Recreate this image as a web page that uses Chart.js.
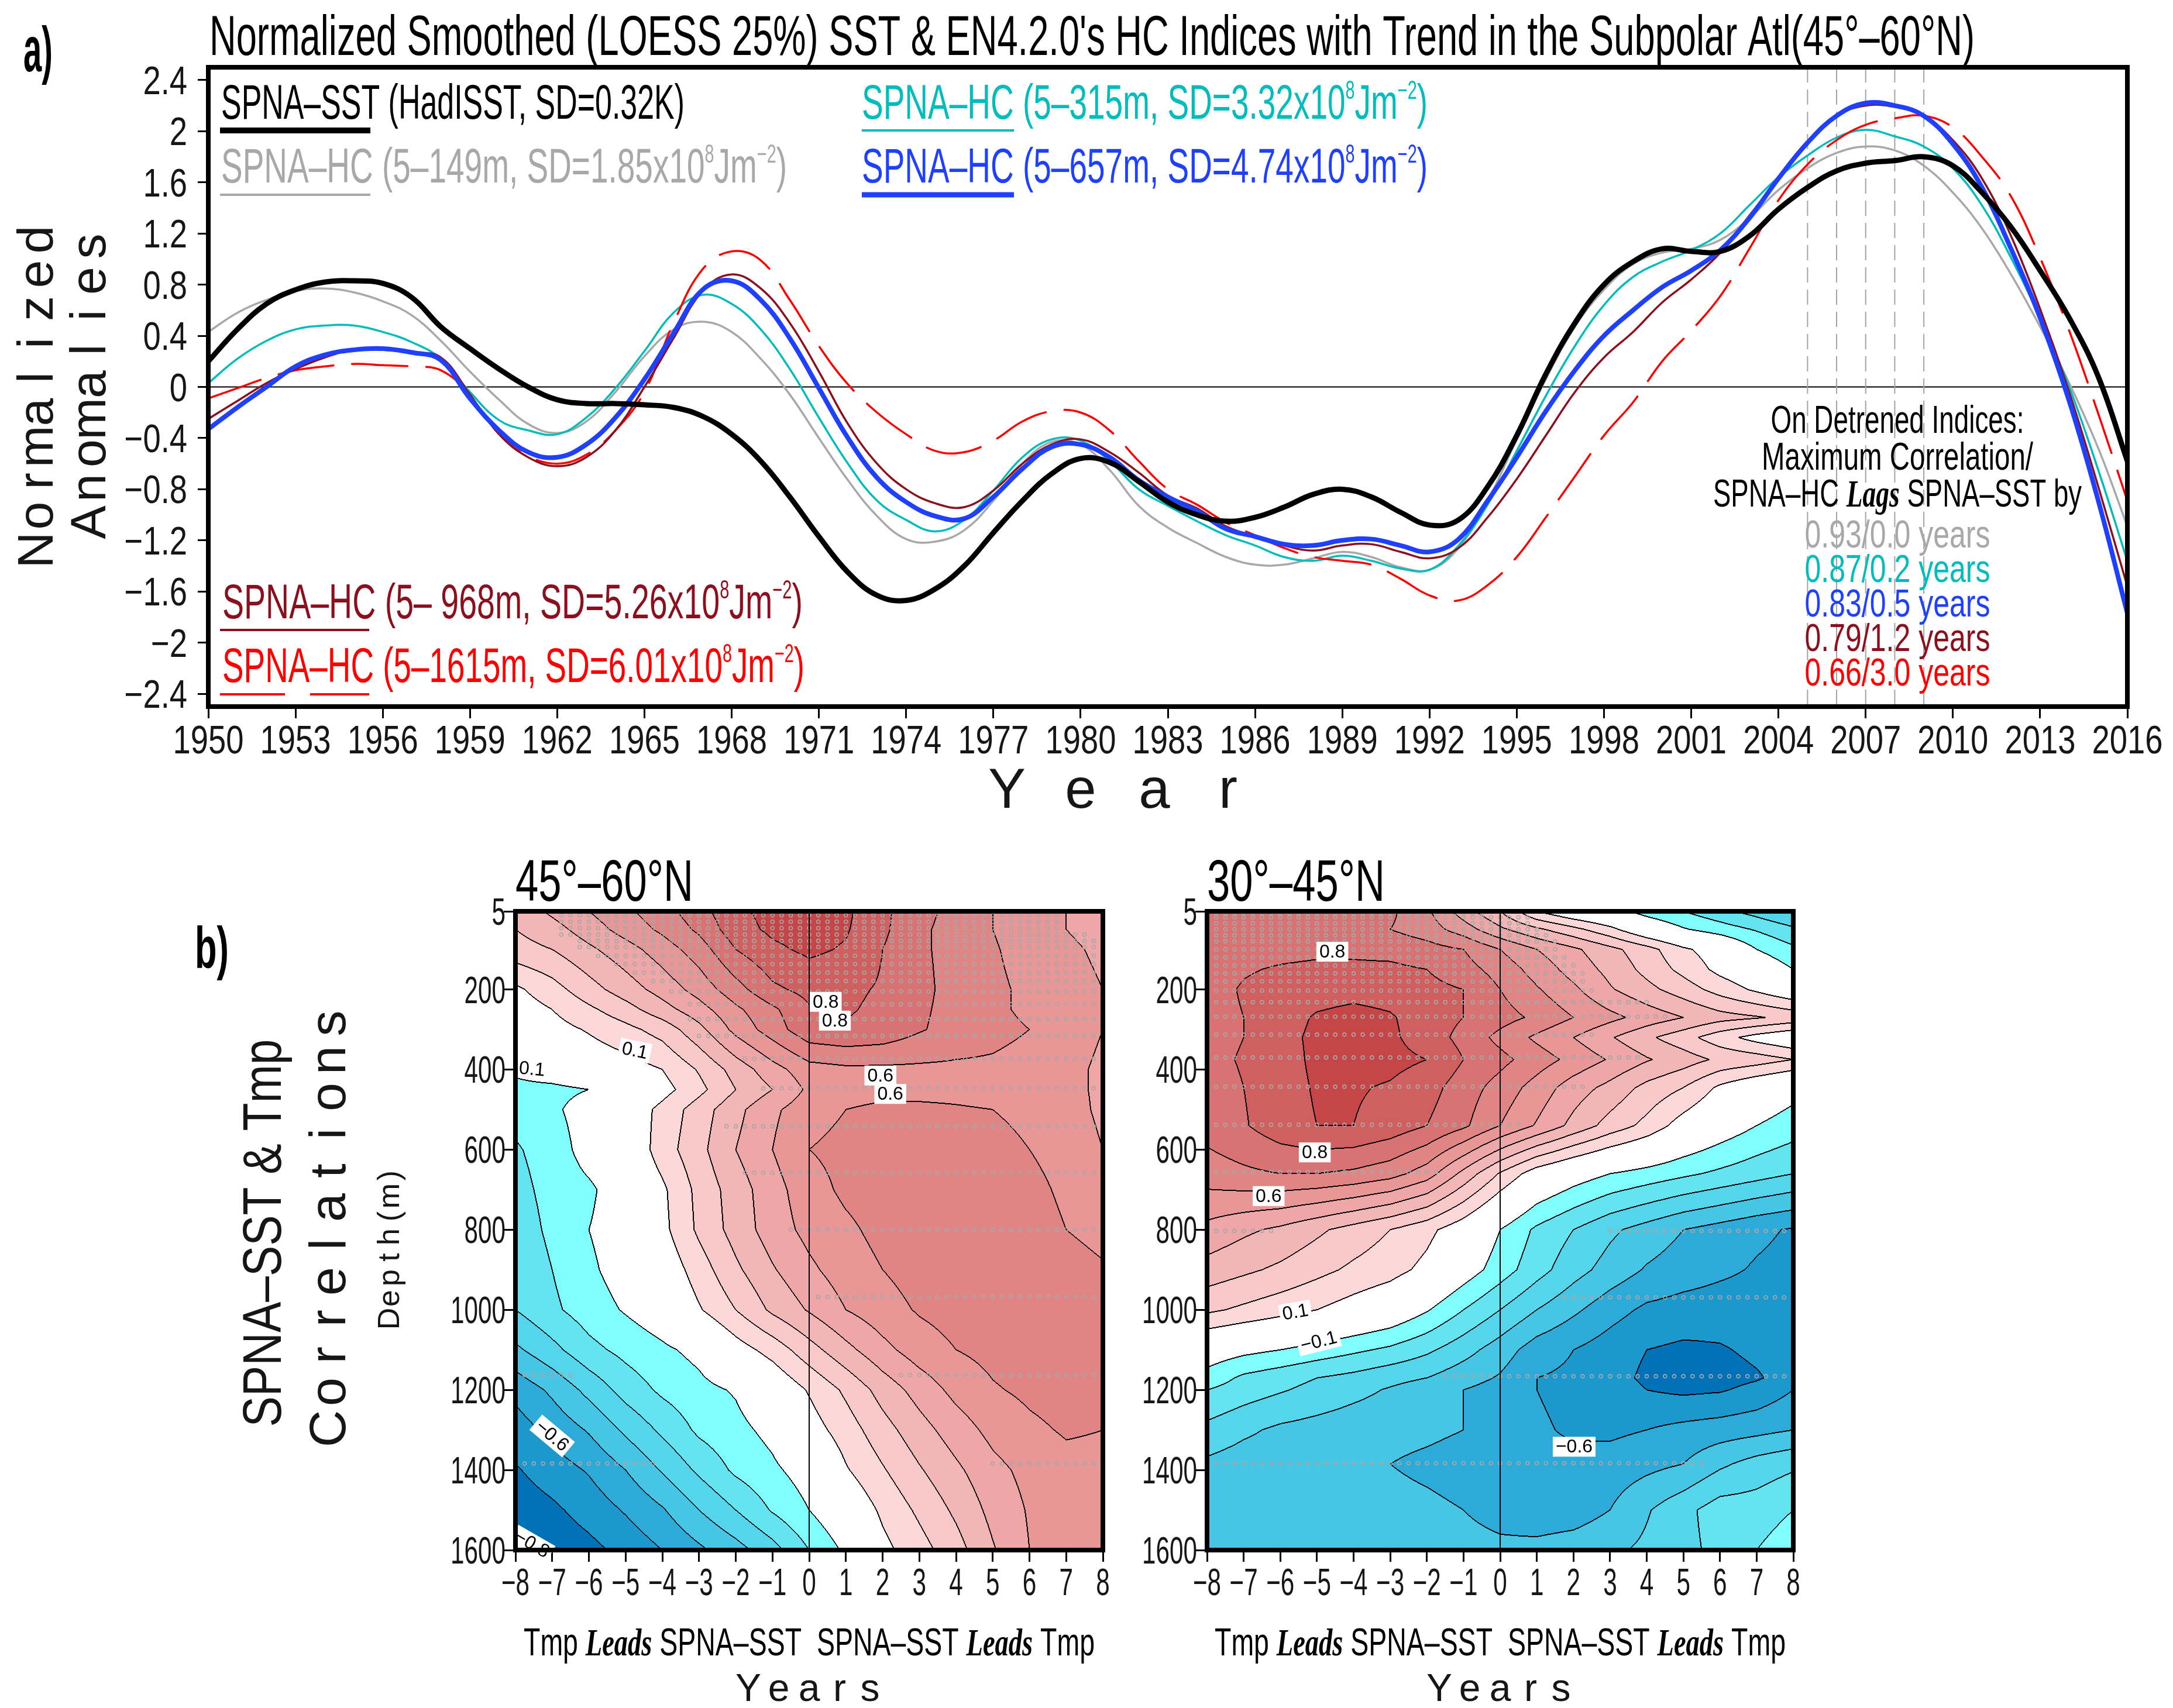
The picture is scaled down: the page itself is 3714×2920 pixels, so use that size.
<!DOCTYPE html>
<html>
<head>
<meta charset="utf-8">
<title>SPNA SST and HC indices</title>
<script src="https://cdn.jsdelivr.net/npm/chart.js@4.4.1/dist/chart.umd.min.js"></script>
<style>
  html, body { margin: 0; padding: 0; background: #fff; }
  #page { position: relative; width: 3714px; height: 2920px; overflow: hidden; background: #fff; }
  #page canvas { position: absolute; left: 0; top: 0; }
</style>
</head>
<body>
<div id="page">
  <canvas id="chartTop" width="3714" height="2920"></canvas>
  <canvas id="chartLeft" width="3714" height="2920"></canvas>
  <canvas id="chartRight" width="3714" height="2920"></canvas>
</div>
<script>
// ---------- panel a) data ----------
const years = [];
for (let y = 1950; y <= 2016; y++) years.push(y);

const sst = [
  0.20, 0.45, 0.65, 0.76, 0.82, 0.83, 0.81, 0.70, 0.47, 0.30,
  0.14, 0.00, -0.10, -0.13, -0.13, -0.14, -0.16, -0.23, -0.37, -0.58,
  -0.86, -1.17, -1.45, -1.63, -1.67, -1.58, -1.40, -1.14, -0.89, -0.68,
  -0.56, -0.59, -0.74, -0.90, -1.00, -1.05, -1.02, -0.94, -0.84, -0.80,
  -0.86, -0.98, -1.08, -1.04, -0.78, -0.38, 0.10, 0.50, 0.80, 0.98,
  1.08, 1.06, 1.06, 1.18, 1.39, 1.56, 1.69, 1.75, 1.77, 1.80,
  1.73, 1.52, 1.25, 0.91, 0.54, 0.08, -0.58
];
const hc149 = [
  0.43, 0.58, 0.68, 0.75, 0.77, 0.74, 0.67, 0.56, 0.36, 0.12,
  -0.10, -0.29, -0.36, -0.27, -0.04, 0.24, 0.45, 0.51, 0.43, 0.22,
  -0.06, -0.40, -0.73, -1.01, -1.19, -1.21, -1.12, -0.89, -0.60, -0.43,
  -0.45, -0.65, -0.93, -1.10, -1.22, -1.33, -1.39, -1.39, -1.34, -1.29,
  -1.33, -1.41, -1.43, -1.26, -0.89, -0.41, 0.06, 0.47, 0.76, 0.96,
  1.05, 1.08, 1.15, 1.32, 1.54, 1.71, 1.83, 1.88, 1.85, 1.73,
  1.52, 1.24, 0.88, 0.47, 0.03, -0.48, -1.09
];
const hc315 = [
  0.03, 0.22, 0.36, 0.45, 0.48, 0.48, 0.43, 0.35, 0.22, -0.04,
  -0.26, -0.34, -0.37, -0.24, -0.01, 0.28, 0.58, 0.72, 0.65, 0.45,
  0.14, -0.24, -0.60, -0.89, -1.04, -1.13, -1.04, -0.81, -0.55, -0.41,
  -0.42, -0.58, -0.80, -0.93, -1.05, -1.16, -1.24, -1.33, -1.36, -1.32,
  -1.36, -1.42, -1.43, -1.24, -0.92, -0.50, -0.07, 0.32, 0.64, 0.86,
  0.98, 1.07, 1.20, 1.42, 1.64, 1.81, 1.95, 2.01, 1.96, 1.88,
  1.71, 1.42, 1.01, 0.54, 0.00, -0.65, -1.36
];
const hc657 = [
  -0.33, -0.16, 0.00, 0.16, 0.25, 0.29, 0.30, 0.27, 0.21, -0.09,
  -0.34, -0.51, -0.55, -0.45, -0.24, 0.06, 0.42, 0.76, 0.83, 0.68,
  0.38, -0.01, -0.40, -0.71, -0.90, -1.01, -1.03, -0.86, -0.64, -0.47,
  -0.45, -0.55, -0.73, -0.86, -0.97, -1.11, -1.17, -1.23, -1.24, -1.20,
  -1.19, -1.24, -1.29, -1.19, -0.89, -0.55, -0.19, 0.13, 0.40, 0.60,
  0.78, 0.91, 1.07, 1.32, 1.63, 1.91, 2.12, 2.22, 2.20, 2.12,
  1.90, 1.56, 1.08, 0.54, -0.11, -0.89, -1.77
];
const hc968 = [
  -0.25, -0.11, 0.03, 0.14, 0.23, 0.29, 0.29, 0.27, 0.23, -0.06,
  -0.37, -0.55, -0.62, -0.55, -0.34, 0.00, 0.38, 0.75, 0.88, 0.77,
  0.50, 0.12, -0.29, -0.60, -0.80, -0.91, -0.94, -0.81, -0.60, -0.45,
  -0.41, -0.51, -0.67, -0.85, -0.95, -1.09, -1.17, -1.24, -1.28, -1.24,
  -1.23, -1.29, -1.34, -1.26, -1.02, -0.72, -0.38, -0.04, 0.23, 0.43,
  0.66, 0.84, 1.05, 1.34, 1.63, 1.91, 2.12, 2.20, 2.19, 2.12,
  1.93, 1.63, 1.18, 0.61, -0.04, -0.78, -1.56
];
const hc1615 = [
  -0.09, -0.01, 0.07, 0.13, 0.16, 0.18, 0.17, 0.16, 0.13, -0.06,
  -0.37, -0.54, -0.60, -0.53, -0.34, -0.04, 0.50, 0.92, 1.06, 0.99,
  0.68, 0.32, 0.02, -0.20, -0.37, -0.50, -0.51, -0.42, -0.27, -0.19,
  -0.20, -0.34, -0.58, -0.80, -0.92, -1.06, -1.16, -1.26, -1.33, -1.36,
  -1.39, -1.50, -1.63, -1.67, -1.55, -1.33, -1.02, -0.70, -0.38, -0.12,
  0.20, 0.44, 0.71, 1.08, 1.46, 1.74, 1.93, 2.05, 2.10, 2.12,
  2.03, 1.80, 1.49, 1.01, 0.44, -0.21, -0.89
];
const yearTicks = [1950,1953,1956,1959,1962,1965,1968,1971,1974,1977,1980,1983,1986,1989,1992,1995,1998,2001,2004,2007,2010,2013,2016];
const yearTickLabels = yearTicks.map(String);
const anomTicks = [2.4,2,1.6,1.2,0.8,0.4,0,-0.4,-0.8,-1.2,-1.6,-2,-2.4];
const anomTickLabels = ['2.4','2','1.6','1.2','0.8','0.4','0','−0.4','−0.8','−1.2','−1.6','−2','−2.4'];
const markedYears = [2005, 2006, 2007, 2008, 2009];
const lagNotes = ['0.93/0.0 years','0.87/0.2 years','0.83/0.5 years','0.79/1.2 years','0.66/3.0 years'];

// ---------- panel b) data ----------
const lags = [-8,-7,-6,-5,-4,-3,-2,-1,0,1,2,3,4,5,6,7,8];
const lagTickLabels = ['−8','−7','−6','−5','−4','−3','−2','−1','0','1','2','3','4','5','6','7','8'];
const depthTicks = [5,200,400,600,800,1000,1200,1400,1600];
const depthTickLabels = ['5','200','400','600','800','1000','1200','1400','1600'];

// 45-60N correlations, rows = depthsA, columns = lags
const depthsA = [5,50,100,200,250,300,400,450,500,600,700,800,900,1000,1100,1200,1300,1400,1500,1600];
const corrA = [
  [0.33,0.42,0.50,0.58,0.66,0.76,0.88,0.93,0.95,0.92,0.82,0.74,0.66,0.60,0.55,0.50,0.45],
  [0.30,0.36,0.45,0.54,0.62,0.72,0.86,0.92,0.94,0.91,0.82,0.72,0.66,0.60,0.55,0.50,0.46],
  [0.26,0.30,0.38,0.46,0.55,0.65,0.80,0.88,0.92,0.89,0.80,0.72,0.66,0.61,0.56,0.52,0.48],
  [0.08,0.16,0.26,0.35,0.44,0.54,0.66,0.78,0.83,0.82,0.79,0.73,0.66,0.62,0.58,0.54,0.50],
  [0.04,0.10,0.18,0.26,0.36,0.46,0.58,0.68,0.79,0.81,0.78,0.72,0.66,0.62,0.58,0.55,0.50],
  [0.02,0.06,0.11,0.17,0.24,0.37,0.53,0.65,0.77,0.79,0.77,0.71,0.66,0.63,0.60,0.55,0.50],
  [-0.08,-0.03,0.02,0.05,0.10,0.21,0.34,0.46,0.56,0.58,0.58,0.58,0.58,0.58,0.56,0.53,0.48],
  [-0.13,-0.13,-0.10,-0.02,0.06,0.17,0.30,0.40,0.52,0.56,0.57,0.57,0.57,0.56,0.55,0.53,0.48],
  [-0.17,-0.12,-0.05,0.02,0.13,0.25,0.37,0.48,0.56,0.60,0.62,0.62,0.61,0.60,0.57,0.54,0.48],
  [-0.21,-0.16,-0.05,0.00,0.15,0.27,0.40,0.50,0.60,0.63,0.65,0.65,0.65,0.64,0.60,0.56,0.50],
  [-0.23,-0.17,-0.12,-0.03,0.08,0.23,0.35,0.46,0.56,0.62,0.65,0.66,0.66,0.66,0.63,0.58,0.54],
  [-0.25,-0.18,-0.10,-0.04,0.07,0.22,0.34,0.45,0.53,0.58,0.63,0.66,0.67,0.67,0.65,0.60,0.57],
  [-0.27,-0.20,-0.12,-0.05,0.02,0.15,0.28,0.39,0.48,0.55,0.60,0.64,0.66,0.67,0.67,0.64,0.61],
  [-0.30,-0.22,-0.15,-0.09,-0.03,0.09,0.20,0.32,0.41,0.50,0.56,0.61,0.64,0.66,0.67,0.66,0.64],
  [-0.42,-0.33,-0.23,-0.17,-0.12,-0.07,0.05,0.14,0.26,0.37,0.47,0.55,0.60,0.63,0.66,0.67,0.65],
  [-0.57,-0.48,-0.37,-0.26,-0.18,-0.13,-0.09,0.00,0.11,0.22,0.34,0.44,0.53,0.59,0.62,0.64,0.63],
  [-0.65,-0.57,-0.49,-0.38,-0.28,-0.18,-0.13,-0.07,0.05,0.15,0.26,0.36,0.45,0.53,0.58,0.61,0.60],
  [-0.71,-0.65,-0.59,-0.50,-0.39,-0.28,-0.18,-0.12,-0.05,0.09,0.19,0.29,0.38,0.47,0.53,0.57,0.57],
  [-0.76,-0.72,-0.66,-0.59,-0.51,-0.40,-0.30,-0.19,-0.10,0.00,0.12,0.22,0.32,0.43,0.51,0.56,0.57],
  [-0.83,-0.77,-0.73,-0.67,-0.60,-0.52,-0.44,-0.34,-0.20,-0.08,0.07,0.16,0.26,0.39,0.50,0.56,0.58]
];
// 30-45N correlations
const depthsB = [5,50,100,150,200,270,320,375,445,540,660,800,900,1000,1100,1170,1200,1300,1385,1500,1600];
const corrB = [
  [0.70,0.71,0.72,0.73,0.74,0.72,0.62,0.45,0.30,0.10,0.00,-0.06,-0.14,-0.20,-0.27,-0.34,-0.42],
  [0.72,0.73,0.73,0.73,0.72,0.70,0.65,0.55,0.42,0.32,0.23,0.13,0.00,-0.09,-0.15,-0.21,-0.28],
  [0.74,0.76,0.77,0.78,0.78,0.77,0.74,0.70,0.60,0.50,0.42,0.33,0.24,0.12,0.04,-0.10,-0.18],
  [0.75,0.79,0.81,0.82,0.82,0.82,0.80,0.74,0.66,0.56,0.46,0.37,0.27,0.17,0.07,0.00,-0.10],
  [0.76,0.81,0.84,0.86,0.87,0.86,0.83,0.80,0.70,0.61,0.52,0.41,0.33,0.25,0.16,0.08,0.00],
  [0.76,0.80,0.86,0.91,0.93,0.91,0.85,0.80,0.74,0.68,0.60,0.53,0.46,0.40,0.34,0.31,0.27],
  [0.76,0.80,0.87,0.92,0.93,0.92,0.85,0.77,0.67,0.58,0.50,0.41,0.32,0.24,0.14,0.06,0.00],
  [0.77,0.81,0.86,0.92,0.94,0.93,0.90,0.80,0.73,0.65,0.57,0.49,0.41,0.35,0.28,0.25,0.20],
  [0.75,0.80,0.86,0.91,0.91,0.89,0.84,0.75,0.66,0.56,0.45,0.37,0.27,0.20,0.08,0.00,-0.06],
  [0.74,0.79,0.86,0.90,0.90,0.86,0.80,0.72,0.60,0.49,0.37,0.26,0.17,0.05,-0.03,-0.10,-0.15],
  [0.65,0.68,0.70,0.70,0.68,0.64,0.55,0.37,0.19,0.04,-0.04,-0.10,-0.14,-0.18,-0.22,-0.26,-0.30],
  [0.47,0.42,0.38,0.32,0.26,0.20,0.13,0.03,-0.10,-0.22,-0.30,-0.38,-0.44,-0.50,-0.54,-0.58,-0.61],
  [0.36,0.32,0.28,0.23,0.18,0.14,0.07,-0.04,-0.15,-0.26,-0.36,-0.44,-0.51,-0.55,-0.58,-0.61,-0.63],
  [0.22,0.18,0.14,0.10,0.05,0.00,-0.09,-0.20,-0.30,-0.40,-0.48,-0.56,-0.62,-0.64,-0.65,-0.65,-0.64],
  [-0.03,-0.07,-0.10,-0.14,-0.18,-0.22,-0.28,-0.36,-0.45,-0.55,-0.60,-0.65,-0.70,-0.72,-0.71,-0.68,-0.66],
  [-0.14,-0.22,-0.26,-0.30,-0.33,-0.37,-0.40,-0.46,-0.51,-0.60,-0.62,-0.66,-0.72,-0.76,-0.74,-0.71,-0.66],
  [-0.20,-0.25,-0.29,-0.33,-0.37,-0.41,-0.45,-0.50,-0.54,-0.60,-0.62,-0.65,-0.70,-0.72,-0.71,-0.67,-0.60],
  [-0.33,-0.38,-0.42,-0.44,-0.46,-0.47,-0.48,-0.50,-0.54,-0.59,-0.61,-0.62,-0.60,-0.57,-0.55,-0.53,-0.50],
  [-0.42,-0.45,-0.46,-0.47,-0.48,-0.50,-0.52,-0.54,-0.57,-0.58,-0.58,-0.56,-0.53,-0.50,-0.42,-0.36,-0.32],
  [-0.46,-0.46,-0.46,-0.47,-0.47,-0.47,-0.48,-0.50,-0.53,-0.56,-0.55,-0.50,-0.41,-0.33,-0.25,-0.25,-0.20],
  [-0.47,-0.46,-0.46,-0.46,-0.46,-0.46,-0.47,-0.47,-0.48,-0.47,-0.45,-0.42,-0.38,-0.33,-0.27,-0.20,-0.14]
];
// significance rows: [depth, first lag, last lag]
const sigRowsA = [
  [15,-6.75,6.75],[31,-6.75,6.75],[47,-6.75,6.75],[63,-6.75,7.5],[79,-6.25,7.75],[94,-6.25,7.75],
  [116,-5.75,7.75],[137,-5.25,7.75],[158,-4.75,7.75],[179,-4.25,7.75],[205,-3.75,7.75],[237,-3.25,7.75],
  [274,-3.25,7.75],[316,-3,7.75],[373,-1.75,7.75],[447,-1.25,7.75],[542,-2.25,7.75],[658,-1.75,7.75],
  [800,-0.5,7.75],[968,0.25,7.75],[1163,-7.75,-6.5],[1163,2.5,7.75],[1384,-7.75,-4.25],[1384,5,7.75]
];
const sigRowsB = [
  [10,-7.75,-0.5],[20,-7.75,0.75],[35,-7.75,0.75],[50,-7.75,1],[65,-7.75,1.25],[80,-7.75,1.5],
  [100,-7.75,1.5],[120,-7.75,1.75],[140,-7.75,2],[160,-7.75,2.25],[180,-7.75,2.25],[203,-7.75,2.5],
  [232,-7.75,4],[268,-7.75,4.5],[313,-7.75,2.5],[370,-7.75,3.75],[443,-7.75,2.25],[538,-7.75,0.5],
  [656,-7.75,-1.75],[803,-7.75,-6.25],[803,3,7.75],[969,1.75,7.75],[1166,-1.5,7.75],[1383,-7.75,5.5]
];
// contour labels: [lag, depth, text, rotation in degrees]
const contourLabelsA = [
  [0.45,231,'0.8',0],[0.7,278,'0.8',0],[1.94,415,'0.6',0],[2.21,461,'0.6',0],
  [-4.75,353,'0.1',12],[-7.55,399,'0.1',5],[-7.0,1315,'−0.6',40],[-7.55,1585,'−0.8',30]
];
const contourLabelsB = [
  [-4.58,106,'0.8',0],[-5.06,607,'0.8',0],[-6.32,716,'0.6',0],
  [-5.59,1006,'0.1',-10],[-4.95,1079,'−0.1',-14],[2.02,1342,'−0.6',0]
];

// ---------- styling helpers ----------
const FAM = '"Liberation Sans", Arial, sans-serif';
const F = (size, pre) => (pre ? pre + ' ' : '') + size + 'px ' + FAM;
const SBI = size => 'italic bold ' + size + 'px "Liberation Serif", "DejaVu Serif", serif';
const C_SST = '#000000', C149 = '#a8a8a8', C315 = '#00bcbc', C657 = '#2040ff', C968 = '#8c0f1e', C1615 = '#ff0000';
const INK = '#161616';

function drawSegs(ctx, segs, x, y, width, align, color) {
  ctx.save();
  ctx.textBaseline = 'alphabetic';
  ctx.textAlign = 'left';
  let total = 0;
  const ws = segs.map(s => { ctx.font = s.font; const w = ctx.measureText(s.t).width; total += w; return w; });
  const sx = width ? width / total : 1;
  const w = total * sx;
  const start = align === 'center' ? x - w / 2 : align === 'right' ? x - w : x;
  ctx.translate(start, y);
  ctx.scale(sx, 1);
  let cx = 0;
  segs.forEach((s, i) => {
    ctx.font = s.font;
    ctx.fillStyle = s.color || color;
    ctx.fillText(s.t, cx, s.dy || 0);
    cx += ws[i];
  });
  ctx.restore();
}
function text(ctx, t, x, y, font, width, align, color) {
  drawSegs(ctx, [{ t, font }], x, y, width, align, color);
}
function condText(ctx, t, x, y, size, sx, align, color) {
  ctx.save();
  ctx.font = F(size);
  ctx.fillStyle = color || INK;
  ctx.textAlign = align;
  ctx.textBaseline = 'alphabetic';
  ctx.translate(x, y);
  ctx.scale(sx, 1);
  ctx.fillText(t, 0, 0);
  ctx.restore();
}
function spaced(ctx, t, cx, y, pitch, font, color) {
  ctx.save();
  ctx.font = font;
  ctx.fillStyle = color || INK;
  ctx.textAlign = 'center';
  ctx.textBaseline = 'alphabetic';
  const n = t.length;
  for (let i = 0; i < n; i++) ctx.fillText(t[i], cx + (i - (n - 1) / 2) * pitch, y);
  ctx.restore();
}
function upright(ctx, bx, cy, fn) {
  ctx.save();
  ctx.translate(bx, cy);
  ctx.rotate(-Math.PI / 2);
  fn();
  ctx.restore();
}
function hcLegend(range, sd, color) {
  return [
    { t: 'SPNA–HC (' + range + ', SD=' + sd + 'x10', font: F(84), color },
    { t: '8', font: F(44), dy: -34, color },
    { t: 'Jm', font: F(84), color },
    { t: '−2', font: F(44), dy: -34, color },
    { t: ')', font: F(84), color }
  ];
}
function sample(ctx, x1, x2, y, color, width, dash) {
  ctx.save();
  ctx.strokeStyle = color;
  ctx.lineWidth = width;
  ctx.setLineDash(dash || []);
  ctx.beginPath(); ctx.moveTo(x1, y); ctx.lineTo(x2, y); ctx.stroke();
  ctx.restore();
}
function frame(ctx, a, w) {
  ctx.save();
  ctx.strokeStyle = '#000';
  ctx.lineWidth = w;
  ctx.strokeRect(a.left, a.top, a.right - a.left, a.bottom - a.top);
  ctx.restore();
}

// ---------- panel a) chart ----------
const topDeco = {
  id: 'topDeco',
  beforeDatasetsDraw(chart) {
    const { ctx, chartArea: a, scales: { x, y } } = chart;
    ctx.save();
    const y0 = y.getPixelForValue(0);
    ctx.strokeStyle = '#000'; ctx.lineWidth = 2;
    ctx.beginPath(); ctx.moveTo(a.left, y0); ctx.lineTo(a.right, y0); ctx.stroke();
    ctx.strokeStyle = '#a4a4a4'; ctx.lineWidth = 2; ctx.setLineDash([26, 12]);
    markedYears.forEach(yr => {
      const px = x.getPixelForValue(yr);
      ctx.beginPath(); ctx.moveTo(px, a.top); ctx.lineTo(px, a.bottom); ctx.stroke();
    });
    ctx.restore();
  },
  afterDraw(chart) {
    const { ctx, chartArea: a, scales: { x, y } } = chart;
    frame(ctx, a, 8);
    // tick labels
    x.ticks.forEach((t, i) => condText(ctx, yearTickLabels[i], x.getPixelForValue(t.value), 1288, 68, 0.8, 'center'));
    y.ticks.forEach((t, i) => condText(ctx, anomTickLabels[i], 320, y.getPixelForValue(t.value) + 24, 68, 0.8, 'right'));
    // title
    text(ctx, 'Normalized Smoothed (LOESS 25%) SST & EN4.2.0\'s HC Indices with Trend in the Subpolar Atl(45°–60°N)',
      358, 94, F(96), 3017, 'left', '#000');
    text(ctx, 'a)', 40, 122, F(110, 'bold'), 50, 'left', '#000');
    // axis titles
    upright(ctx, 90, 675, () => spaced(ctx, 'Normalized', 0, 0, 59, F(86)));
    upright(ctx, 180, 657, () => spaced(ctx, 'Anomalies', 0, 0, 59, F(86)));
    spaced(ctx, 'Year', 1910, 1381, 126, F(96));
    // legend
    text(ctx, 'SPNA–SST (HadISST, SD=0.32K)', 378, 203, F(84), 792, 'left', C_SST);
    sample(ctx, 376, 633, 223, C_SST, 10);
    drawSegs(ctx, hcLegend('5–149m', '1.85', C149), 378, 312, 967, 'left', C149);
    sample(ctx, 376, 633, 333, C149, 4);
    drawSegs(ctx, hcLegend('5–315m', '3.32', C315), 1473, 203, 967, 'left', C315);
    sample(ctx, 1473, 1733, 223, C315, 4);
    drawSegs(ctx, hcLegend('5–657m', '4.74', C657), 1473, 312, 967, 'left', C657);
    sample(ctx, 1473, 1733, 333, C657, 9);
    drawSegs(ctx, hcLegend('5– 968m', '5.26', C968), 380, 1057, 992, 'left', C968);
    sample(ctx, 376, 631, 1077, C968, 4);
    drawSegs(ctx, hcLegend('5–1615m', '6.01', C1615), 380, 1166, 995, 'left', C1615);
    sample(ctx, 376, 631, 1187, C1615, 4, [111, 43]);
    // lag annotation
    text(ctx, 'On Detrened Indices:', 3243, 740, F(66), 433, 'center', '#000');
    text(ctx, 'Maximum Correlation/', 3243, 803, F(66), 464, 'center', '#000');
    drawSegs(ctx, [
      { t: 'SPNA–HC ', font: F(66) },
      { t: 'Lags', font: SBI(66) },
      { t: ' SPNA–SST by', font: F(66) }
    ], 3243, 866, 630, 'center', '#000');
    const noteColors = [C149, C315, C657, C968, C1615];
    lagNotes.forEach((s, i) => text(ctx, s, 3243, 936 + i * 59, F(66), 317, 'center', noteColors[i]));
  }
};

function series(vals) { return vals.map((v, i) => ({ x: years[i], y: v })); }
const lineBase = { pointRadius: 0, pointHoverRadius: 0, tension: 0.4, fill: false, borderCapStyle: 'round' };

new Chart(document.getElementById('chartTop'), {
  type: 'line',
  data: {
    datasets: [
      Object.assign({ label: 'SPNA-SST', data: series(sst), borderColor: C_SST, borderWidth: 9, order: 0 }, lineBase),
      Object.assign({ label: 'SPNA-HC 5-657m', data: series(hc657), borderColor: C657, borderWidth: 8, order: 1 }, lineBase),
      Object.assign({ label: 'SPNA-HC 5-968m', data: series(hc968), borderColor: C968, borderWidth: 3.5, order: 2 }, lineBase),
      Object.assign({ label: 'SPNA-HC 5-1615m', data: series(hc1615), borderColor: C1615, borderWidth: 3.5, borderDash: [95, 32], order: 3 }, lineBase),
      Object.assign({ label: 'SPNA-HC 5-315m', data: series(hc315), borderColor: C315, borderWidth: 3.5, order: 4 }, lineBase),
      Object.assign({ label: 'SPNA-HC 5-149m', data: series(hc149), borderColor: C149, borderWidth: 3.5, order: 5 }, lineBase)
    ]
  },
  options: {
    responsive: false, animation: false, devicePixelRatio: 1,
    layout: { padding: { left: 0, right: 78, top: 115, bottom: 0 } },
    plugins: { legend: { display: false }, tooltip: { enabled: false } },
    scales: {
      x: {
        type: 'linear', min: 1950, max: 2016,
        afterBuildTicks: s => { s.ticks = yearTicks.map(v => ({ value: v })); },
        ticks: { display: false },
        grid: { drawOnChartArea: false, tickLength: 20, color: '#000', lineWidth: 3 },
        border: { display: false },
        afterFit: s => { s.height = 2920 - 1208; }
      },
      y: {
        type: 'linear', min: -2.5, max: 2.5,
        afterBuildTicks: s => { s.ticks = anomTicks.map(v => ({ value: v })); },
        ticks: { display: false },
        grid: { drawOnChartArea: false, tickLength: 18, color: '#000', lineWidth: 3 },
        border: { display: false },
        afterFit: s => { s.width = 356; }
      }
    }
  },
  plugins: [topDeco]
});

// ---------- panel b) charts ----------
const posColors = [[255,255,255],[253,216,216],[249,201,201],[243,182,182],[238,166,166],[232,150,150],[224,132,132],[217,115,115],[208,96,96],[198,70,72]];
const negColors = [[255,255,255],[128,255,255],[100,228,240],[84,213,235],[70,197,228],[45,170,215],[28,152,205],[0,112,183],[0,90,170],[0,70,150]];
function levelOf(v) {
  if (v >= 0.1) return Math.min(9, Math.floor(v * 10 + 1e-6));
  if (v <= -0.1) return -Math.min(9, Math.floor(-v * 10 + 1e-6));
  return 0;
}
function locate(arr, v) {
  if (v <= arr[0]) return [0, 0];
  const n = arr.length;
  if (v >= arr[n - 1]) return [n - 2, 1];
  let k = 0;
  while (k < n - 2 && v > arr[k + 1]) k++;
  return [k, (v - arr[k]) / (arr[k + 1] - arr[k])];
}
function fieldPlugin(depths, grid) {
  return {
    id: 'field',
    beforeDatasetsDraw(chart) {
      const { ctx, chartArea: a, scales: { x, y } } = chart;
      const x0 = Math.round(a.left), y0 = Math.round(a.top);
      const W = Math.round(a.right) - x0, H = Math.round(a.bottom) - y0;
      const ci = new Int16Array(W), cf = new Float32Array(W);
      for (let i = 0; i < W; i++) { const r = locate(lags, x.getValueForPixel(x0 + i + 0.5)); ci[i] = r[0]; cf[i] = r[1]; }
      const ri = new Int16Array(H), rf = new Float32Array(H);
      for (let j = 0; j < H; j++) { const r = locate(depths, y.getValueForPixel(y0 + j + 0.5)); ri[j] = r[0]; rf[j] = r[1]; }
      const lev = new Int8Array(W * H);
      for (let j = 0; j < H; j++) {
        const g0 = grid[ri[j]], g1 = grid[ri[j] + 1], fr = rf[j];
        for (let i = 0; i < W; i++) {
          const c = ci[i], fc = cf[i];
          const top = g0[c] * (1 - fc) + g0[c + 1] * fc;
          const bot = g1[c] * (1 - fc) + g1[c + 1] * fc;
          lev[j * W + i] = levelOf(top * (1 - fr) + bot * fr);
        }
      }
      const img = ctx.createImageData(W, H);
      const p = img.data;
      for (let n = 0; n < W * H; n++) {
        const L = lev[n];
        const col = L >= 0 ? posColors[L] : negColors[-L];
        p[4 * n] = col[0]; p[4 * n + 1] = col[1]; p[4 * n + 2] = col[2]; p[4 * n + 3] = 255;
      }
      const ink = n => { p[4 * n] = 0; p[4 * n + 1] = 0; p[4 * n + 2] = 0; };
      for (let j = 0; j < H; j++) {
        for (let i = 0; i < W; i++) {
          const n = j * W + i;
          if (i < W - 1 && lev[n] !== lev[n + 1]) { ink(n); ink(n + 1); }
          if (j < H - 1 && lev[n] !== lev[n + W]) { ink(n); ink(n + W); }
        }
      }
      ctx.putImageData(img, x0, y0);
    }
  };
}
function panelDeco(opts) {
  return {
    id: 'panelDeco',
    afterDatasetsDraw(chart) {
      const { ctx, chartArea: a, scales: { x, y } } = chart;
      ctx.save();
      const px0 = x.getPixelForValue(0);
      ctx.strokeStyle = '#000'; ctx.lineWidth = 2;
      ctx.beginPath(); ctx.moveTo(px0, a.top); ctx.lineTo(px0, a.bottom); ctx.stroke();
      opts.labels.forEach(l => {
        const px = x.getPixelForValue(l[0]), py = y.getPixelForValue(l[1]);
        ctx.save();
        ctx.translate(px, py);
        ctx.rotate(l[3] * Math.PI / 180);
        ctx.font = F(32);
        const w = ctx.measureText(l[2]).width;
        ctx.fillStyle = '#fff';
        ctx.fillRect(-w / 2 - 5, -17, w + 10, 34);
        ctx.fillStyle = '#000';
        ctx.textAlign = 'center'; ctx.textBaseline = 'middle';
        ctx.fillText(l[2], 0, 1);
        ctx.restore();
      });
      ctx.restore();
    },
    afterDraw(chart) {
      const { ctx, chartArea: a, scales: { x, y } } = chart;
      frame(ctx, a, 8);
      x.ticks.forEach((t, i) => condText(ctx, lagTickLabels[i], x.getPixelForValue(t.value), 2727, 64, 0.66, 'center'));
      y.ticks.forEach((t, i) => condText(ctx, depthTickLabels[i], a.left - 17, y.getPixelForValue(t.value) + 23, 64, 0.66, 'right'));
      const cx = (a.left + a.right) / 2;
      text(ctx, opts.title, a.left, 1540, F(100), 304, 'left', '#000');
      drawSegs(ctx, [
        { t: 'Tmp ', font: F(66) },
        { t: 'Leads', font: SBI(66) },
        { t: ' SPNA–SST  SPNA–SST ', font: F(66) },
        { t: 'Leads', font: SBI(66) },
        { t: ' Tmp', font: F(66) }
      ], cx, 2830, 976, 'center', '#000');
      spaced(ctx, 'Years', cx, 2908, 52, F(66));
      if (opts.first) {
        text(ctx, 'b)', 333, 1655, F(100, 'bold'), 58, 'left', '#000');
        upright(ctx, 480, 2108, () => text(ctx, 'SPNA–SST & Tmp', 0, 0, F(92), 663, 'center', INK));
        upright(ctx, 590, 2096, () => spaced(ctx, 'Correlations', 0, 0, 63, F(88)));
        upright(ctx, 682, 2132, () => spaced(ctx, 'Depth(m)', 0, 0, 35, F(52)));
      }
    }
  };
}
function sigPoints(rows) {
  const pts = [];
  rows.forEach(r => { for (let l = r[1]; l <= r[2] + 1e-9; l += 0.25) pts.push({ x: l, y: r[0] }); });
  return pts;
}
function panelChart(id, padRight, yWidth, depths, grid, sigRows, opts) {
  return new Chart(document.getElementById(id), {
    type: 'scatter',
    data: {
      datasets: [{
        label: 'significant', data: sigPoints(sigRows),
        pointRadius: 3, pointHoverRadius: 0, pointBorderWidth: 1.6,
        pointBorderColor: '#a8a8a8', pointBackgroundColor: 'rgba(0,0,0,0)'
      }]
    },
    options: {
      responsive: false, animation: false, devicePixelRatio: 1,
      layout: { padding: { left: 0, right: padRight, top: 1558, bottom: 0 } },
      plugins: { legend: { display: false }, tooltip: { enabled: false } },
      scales: {
        x: {
          type: 'linear', min: -8, max: 8,
          afterBuildTicks: s => { s.ticks = lags.map(v => ({ value: v })); },
          ticks: { display: false },
          grid: { drawOnChartArea: false, tickLength: 20, color: '#000', lineWidth: 3 },
          border: { display: false },
          afterFit: s => { s.height = 270; }
        },
        y: {
          type: 'linear', reverse: true, min: 5, max: 1600,
          afterBuildTicks: s => { s.ticks = depthTicks.map(v => ({ value: v })); },
          ticks: { display: false },
          grid: { drawOnChartArea: false, tickLength: 20, color: '#000', lineWidth: 3 },
          border: { display: false },
          afterFit: s => { s.width = yWidth; }
        }
      }
    },
    plugins: [fieldPlugin(depths, grid), panelDeco(opts)]
  });
}
panelChart('chartLeft', 3714 - 1885, 881, depthsA, corrA, sigRowsA,
  { title: '45°–60°N', labels: contourLabelsA, first: true });
panelChart('chartRight', 3714 - 3065, 2063, depthsB, corrB, sigRowsB,
  { title: '30°–45°N', labels: contourLabelsB, first: false });
</script>
</body>
</html>
